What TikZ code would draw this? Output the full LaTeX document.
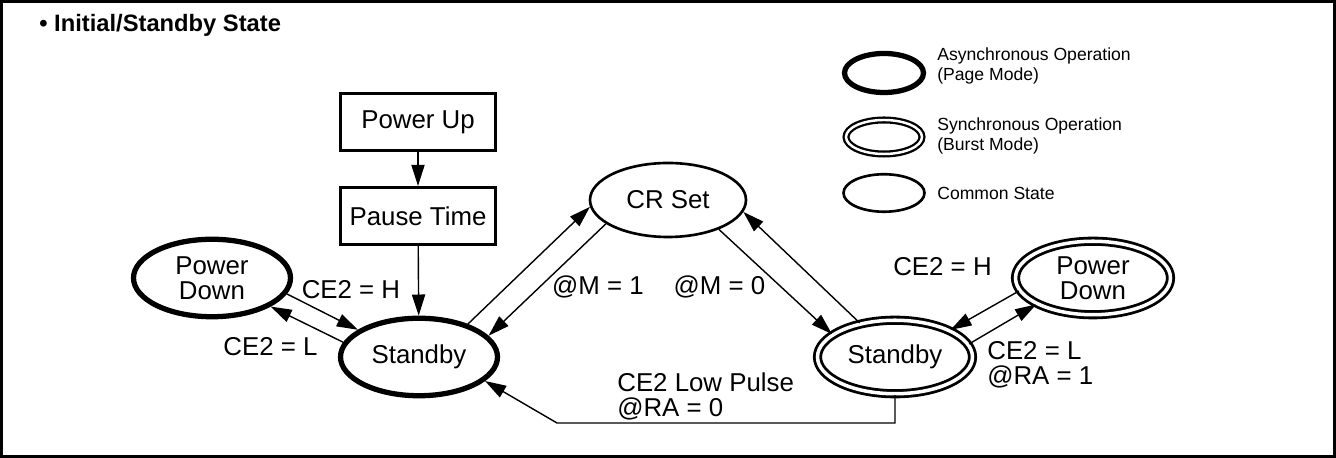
\documentclass[tikz,border=0pt]{standalone}
\usepackage{fontspec}
\setmainfont{Liberation Sans}
\usepackage{xcolor}
\usetikzlibrary{shapes.geometric, arrows.meta}

\tikzset{
  asyncstate/.style={ellipse, draw, line width=3pt, inner sep=0pt,
    minimum width=3.14cm, minimum height=1.55cm, align=center,
    font=\fontsize{14.7}{14.5}\selectfont},
  syncstate/.style={ellipse, draw, double, line width=1.6pt, double distance=2pt,
    inner sep=0pt, minimum width=3.1cm, minimum height=1.47cm, align=center,
    font=\fontsize{14.7}{14}\selectfont},
  commonstate/.style={ellipse, draw, line width=1.5pt, inner sep=0pt,
    minimum width=3.12cm, minimum height=1.48cm,
    font=\fontsize{14.7}{14.5}\selectfont},
  procbox/.style={rectangle, draw, line width=1.8pt, inner sep=0pt,
    minimum width=3.1cm, minimum height=1.14cm,
    font=\fontsize{14.7}{14.5}\selectfont},
  lbl/.style={inner sep=0pt, align=left, font=\fontsize{14.7}{14}\selectfont},
  legendtxt/.style={anchor=west, inner sep=0pt, align=left,
    font=\fontsize{10}{11.3}\selectfont},
  arr/.style={line width=0.8pt, -{Triangle[length=12pt, width=7.5pt]}}
}

\begin{document}
\begin{tikzpicture}
        \useasboundingbox (0,0) rectangle (26.72,9.16);
        % Outer frame and title
        \draw[line width=1.7pt] (0.03,0.03) rectangle (26.69,9.13);
        \node[anchor=west, inner sep=0pt, font=\fontsize{13.5}{14}\selectfont\bfseries] (title) at (0.78, 8.66) {• Initial/Standby State};

        % Legend
        \node[asyncstate, minimum width=1.58cm, minimum height=0.78cm] (keyasync) at (17.68, 7.70) {};
        \node[legendtxt] (keyasynctxt) at (18.74, 7.84) {Asynchronous Operation\\(Page Mode)};
        \node[syncstate, line width=1.3pt, double distance=1.4pt, minimum width=1.52cm, minimum height=0.68cm] (keysync) at (17.68, 6.42) {};
        \node[legendtxt] (keysynctxt) at (18.74, 6.44) {Synchronous Operation\\(Burst Mode)};
        \node[commonstate, minimum width=1.62cm, minimum height=0.75cm] (keycommon) at (17.68, 5.30) {};
        \node[legendtxt] (keycommontxt) at (18.74, 5.30) {Common State};

        % Power up sequence
        \node[procbox] (pwrup) at (8.36, 6.72) {Power Up};
        \node[procbox] (pause) at (8.36, 4.84) {Pause Time};

        % Left side: page mode states
        \node[asyncstate] (sbyasync) at (8.38, 2.02) {Standby};
        \node[asyncstate] (pdasync) at (4.24, 3.60) {Power\\Down};

        % Middle: CR set
        \node[commonstate] (crset) at (13.36, 5.16) {CR Set};

        % Right side: burst mode states
        \node[syncstate] (sbysync) at (17.90, 2.02) {Standby};
        \node[syncstate] (pdsync) at (21.86, 3.60) {Power\\Down};

        % Transition labels
        \node[lbl] (ceHleft) at (7.02, 3.36) {CE2 = H};
        \node[lbl] (ceLleft) at (5.41, 2.22) {CE2 = L};
        \node[lbl] (mone) at (11.96, 3.42) {@M = 1};
        \node[lbl] (mzero) at (14.39, 3.42) {@M = 0};
        \node[lbl, anchor=west] (pulse) at (12.34, 1.23) {CE2 Low Pulse\\@RA = 0};
        \node[lbl] (ceHright) at (18.85, 3.82) {CE2 = H};
        \node[lbl, anchor=west] (ceLright) at (19.74, 1.87) {CE2 = L\\@RA = 1};
        \coordinate (pulsebend) at (11.14, 0.70);

        % Transitions
        \draw[arr] (pwrup) -- (pause);
        \draw[arr] (pause) -- (sbyasync);
        \draw[arr] (pdasync.-12) -- (sbyasync.156);
        \draw[arr] (sbyasync.169) -- (pdasync.-26);
        \draw[arr] (sbyasync.34) -- (crset.185);
        \draw[arr] (crset.201) -- (sbyasync.17);
        \draw[arr] (crset.-30) -- (sbysync.160);
        \draw[arr] (sbysync.136) -- (crset.-9);
        \draw[arr] (pdsync.190) -- (sbysync.26);
        \draw[arr] (sbysync.10) -- (pdsync.205);
        \draw[arr] (sbysync.south) |- (pulsebend) -- (sbyasync.-20);
\end{tikzpicture}
\end{document}
